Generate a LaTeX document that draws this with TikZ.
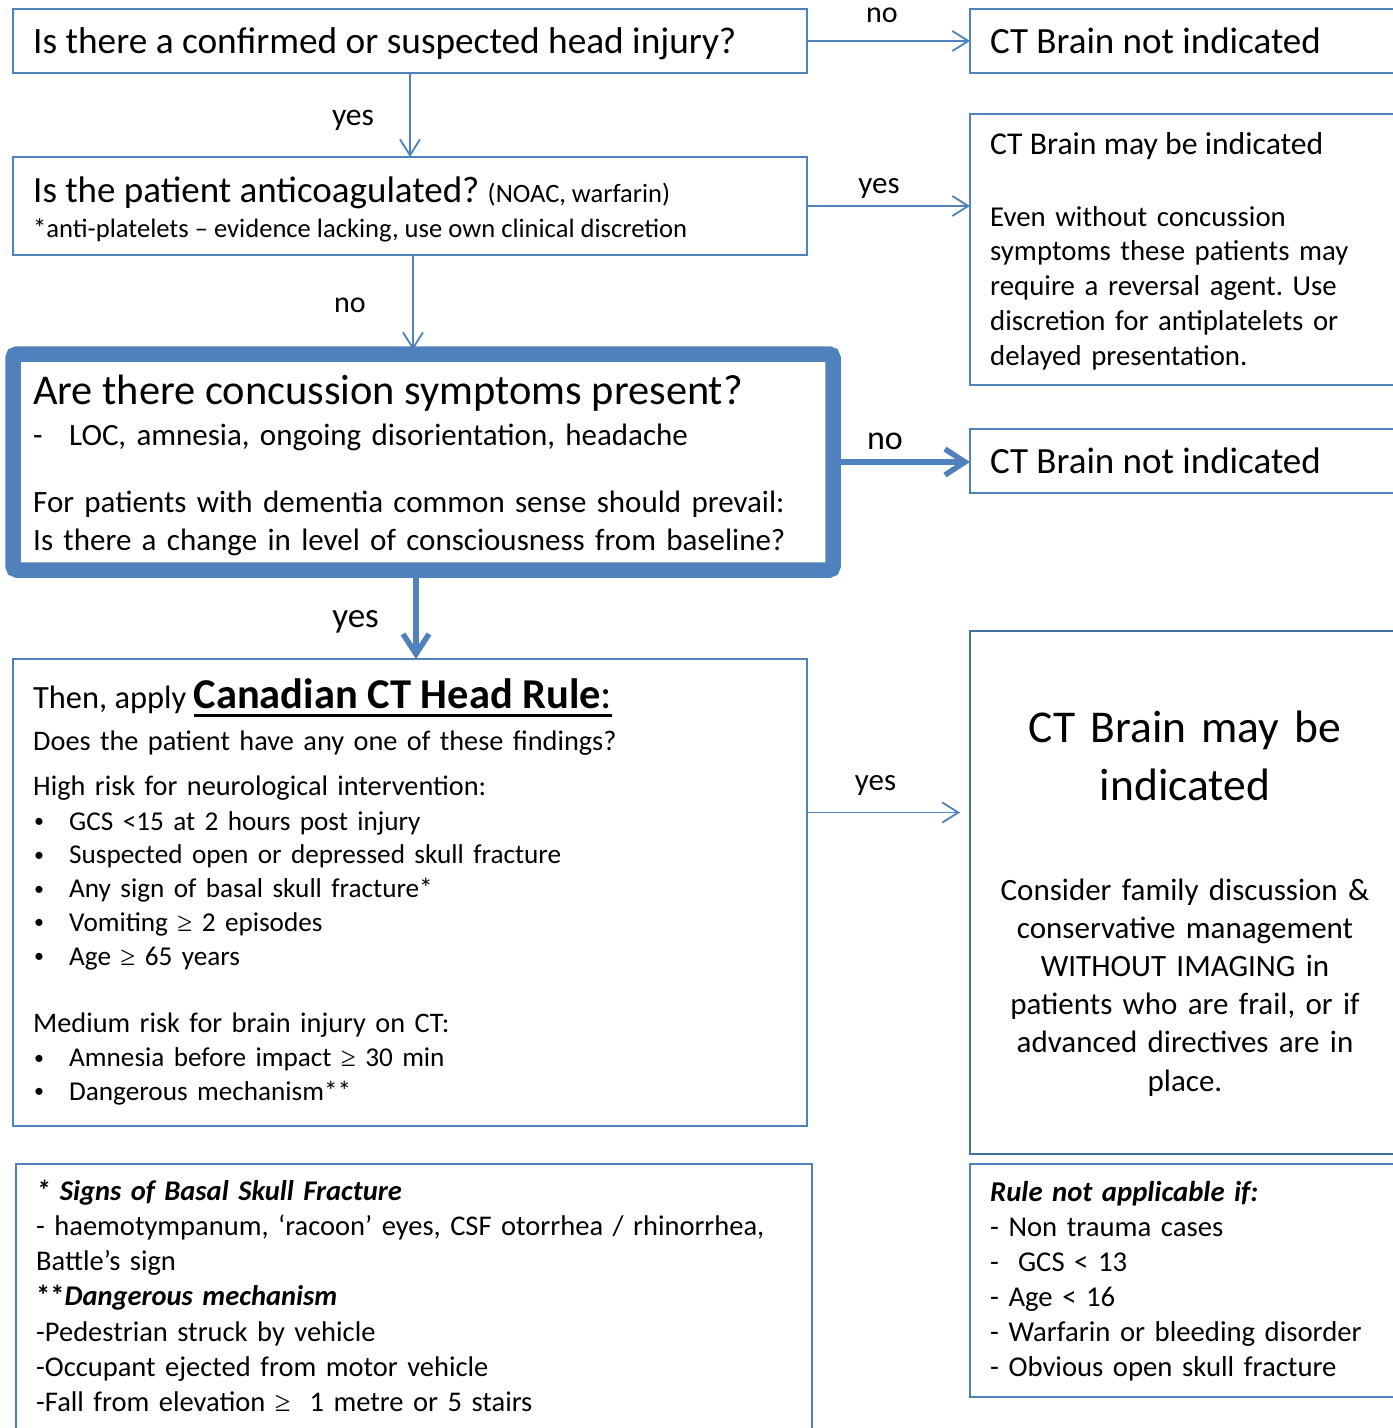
\documentclass[tikz,border=0pt]{standalone}
\usepackage{fontspec}
\setmainfont{Carlito}
\newfontfamily\mathsym{Liberation Serif}
\usetikzlibrary{arrows.meta, positioning, calc}
\definecolor{flowblue}{HTML}{4F81BD}
\definecolor{flowdark}{HTML}{41719C}
\frenchspacing
\newcommand{\fsz}[2]{\fontsize{#1}{#2}\selectfont}
\newcommand{\atleast}{{\mathsym ≥}}
\newcommand{\ruleul}[1]{\setbox0\hbox{#1}\rlap{\rule[-8.5pt]{\wd0}{2.6pt}}\box0}
\newcommand{\bul}{\makebox[36pt][l]{\hspace{1pt}\raisebox{2.5pt}{\fsz{20}{20}•}}\fsz{27.2}{33.8}}

\begin{document}
\begin{tikzpicture}[x=1pt, y=-1pt,
        box/.style={draw=flowblue, line width=1.8pt, inner sep=0pt, outer sep=0pt, anchor=north west},
        bigbox/.style={box, line width=15.5pt, rounded corners=4pt},
        txt/.style={anchor=base west, inner sep=0pt},
        para/.style={txt, text width=#1, align=left},
        lbl/.style={anchor=base, inner sep=0pt},
        flowarrow/.style={draw=flowblue, line width=1.8pt, -{Straight Barb[length=16pt, width=20pt]}},
        boldarrow/.style={draw=flowblue, line width=5.5pt, -{Straight Barb[length=20pt, width=26pt]}}
    ]
    \useasboundingbox (0,0) rectangle (1393,1428);
    \clip (0,0) rectangle (1393,1428);

    % Boxes
    \node[box, minimum width=794pt, minimum height=64pt] (head) at (13,9) {};
    \node[box, minimum width=430pt, minimum height=64pt] (notA) at (970,9) {};
    \node[box, minimum width=794pt, minimum height=98pt] (anticoag) at (13,157) {};
    \node[box, minimum width=430pt, minimum height=271pt] (mayB) at (970,114) {};
    \node[bigbox, minimum width=820pt, minimum height=216pt] (symptoms) at (13,354) {};
    \node[box, minimum width=430pt, minimum height=64pt] (notC) at (970,429) {};
    \node[box, minimum width=794pt, minimum height=467pt] (canadian) at (13,659) {};
    \node[box, draw=flowdark, minimum width=430pt, minimum height=523pt] (mayD) at (970,631) {};
    \node[box, minimum width=796pt, minimum height=300pt] (signs) at (16,1164) {};
    \node[box, minimum width=430pt, minimum height=233pt] (notapp) at (970,1164) {};

    % Texts
    \node[txt, font=\fsz{37.3}{44}] (headq) at (33,53.5) {Is there a confirmed or suspected head injury?};
    \node[txt, font=\fsz{37}{44}] (notAtxt) at (990,53.5) {CT Brain not indicated};
    \node[txt, font=\fsz{37}{44}] (anticoagq) at (33,202) {Is the patient anticoagulated? {\fsz{26.5}{32}(NOAC, warfarin)}};
    \node[txt, font=\fsz{26.6}{32}] (anticoagnote) at (33,237) {*anti-platelets – evidence lacking, use own clinical discretion};
    \node[txt, font=\fsz{31.7}{38}] (mayBtitle) at (990,154) {CT Brain may be indicated};
    \node[para=400pt, font=\fsz{28.8}{34.8}] (mayBbody) at (990,226) {Even without concussion\\
        symptoms these patients may\\
        require a reversal agent. Use\\
        discretion for antiplatelets or\\
        delayed presentation.};
    \node[txt, font=\fsz{42.4}{50}] (symptomsq) at (33,404) {Are there concussion symptoms present?};
    \node[para=800pt, font=\fsz{31}{38}] (symptomsbody) at (33,445) {\makebox[36pt][l]{-}LOC, amnesia, ongoing disorientation, headache\\[29pt]
        For patients with dementia common sense should prevail:\\
        Is there a change in level of consciousness from baseline?};
    \node[txt, font=\fsz{37}{44}] (notCtxt) at (990,473) {CT Brain not indicated};
    \node[txt, font=\fsz{32.4}{38}] (canadiantitle) at (33,708) {Then, apply {\bfseries\fsz{42.5}{50}\ruleul{Canadian CT Head Rule{\mdseries:}}}};
    \node[para=760pt, font=\fsz{28.3}{33.8}] (canadianbody) at (33,750) {Does the patient have any one of these findings?\\[11.2pt]
        High risk for neurological intervention:\\[1.2pt]
        \bul GCS <15 at 2 hours post injury\\
        \bul Suspected open or depressed skull fracture\\
        \bul Any sign of basal skull fracture*\\
        \bul Vomiting \atleast{} 2 episodes\\
        \bul Age \atleast{} 65 years\\[33.7pt]
        \fsz{28.3}{33.8}Medium risk for brain injury on CT:\\
        \bul Amnesia before impact \atleast{} 30 min\\
        \bul Dangerous mechanism**};
    \node[anchor=base, inner sep=0pt, text width=420pt, align=center, font=\fsz{45.5}{58.7}] (mayDtitle) at (1185,742) {CT Brain may be\\indicated};
    \node[anchor=base, inner sep=0pt, text width=420pt, align=center, font=\fsz{31}{38.1}] (mayDbody) at (1185,900.5) {Consider family discussion \&\\
        conservative management\\
        WITHOUT IMAGING in\\
        patients who are frail, or if\\
        advanced directives are in\\
        place.};
    \node[para=900pt, font=\fsz{28.5}{35.3}] (signstxt) at (36,1200) {{\bfseries\itshape * Signs of Basal Skull Fracture}\\
        - haemotympanum, ‘racoon’ eyes, CSF otorrhea / rhinorrhea,\\
        Battle’s sign\\
        {\bfseries **\itshape Dangerous mechanism}\\
        -Pedestrian struck by vehicle\\
        -Occupant ejected from motor vehicle\\
        -Fall from elevation \atleast\ \ 1 metre or 5 stairs};
    \node[para=420pt, font=\fsz{28.7}{35}] (notapptxt) at (990,1201.7) {{\bfseries\itshape Rule not applicable if:}\\
        - Non trauma cases\\
        -\ \ GCS < 13\\
        - Age < 16\\
        - Warfarin or bleeding disorder\\
        - Obvious open skull fracture};

    % Arrows
    \draw[flowarrow] (head.east) -- node[lbl, font=\fsz{30}{36}, xshift=-6.5pt, yshift=18.3pt] {no} (notA.west);
    \draw[flowarrow] (head.south) -- node[lbl, font=\fsz{31.6}{38}, xshift=-57pt, yshift=-10pt] {yes} (anticoag.north);
    \draw[flowarrow] (anticoag.east) -- node[lbl, font=\fsz{31}{37}, xshift=-9.5pt, yshift=12.7pt] {yes} (anticoag.east -| mayB.west);
    \draw[flowarrow, shorten >=4pt] ([xshift=3pt]anticoag.south) -- node[lbl, font=\fsz{30}{36}, xshift=-63pt, yshift=-8pt] {no} ([xshift=3pt]anticoag.south |- symptoms.north);
    \draw[boldarrow] (symptoms.east) -- node[lbl, font=\fsz{34}{40}, xshift=-16.5pt, yshift=13pt] {no} (symptoms.east -| notC.west);
    \draw[boldarrow] ([xshift=-7pt]symptoms.south) -- node[lbl, font=\fsz{35}{42}, xshift=-60.4pt, yshift=-12.5pt] {yes} ([xshift=-7pt]symptoms.south |- canadian.north);
    \draw[flowarrow, shorten >=10pt] ([yshift=80pt]canadian.east) -- node[lbl, font=\fsz{31}{37}, xshift=-13pt, yshift=22pt] {yes} ([yshift=80pt]canadian.east -| mayD.west);

\end{tikzpicture}
\end{document}
